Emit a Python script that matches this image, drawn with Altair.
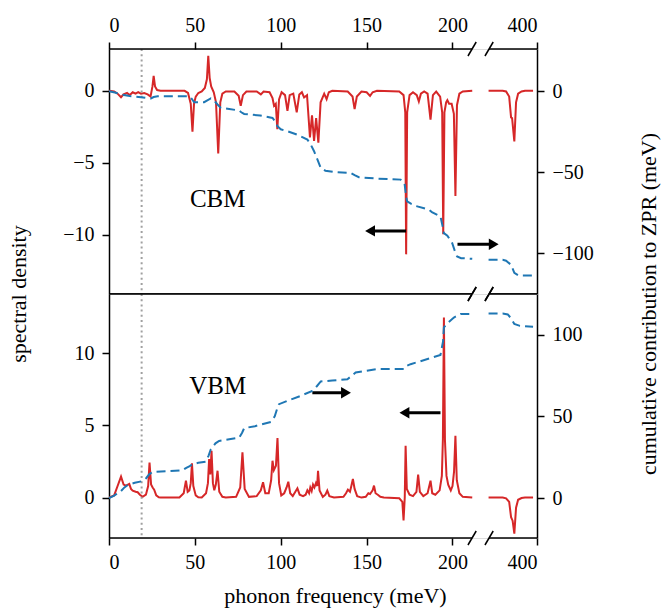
import altair as alt
import pandas as pd

# ---------------- data ----------------
# broken x axis: 0..211.5 meV, then 371.8..400 meV
SHIFT = 150.8            # display position = f - SHIFT for the high-frequency part
XMAX = 400 - SHIFT       # right end of the axis (400 meV)
BREAK_L = 211.4          # end of left spine (display units)
BREAK_R = 221.3          # start of right spine (display units)

# CBM spectral density (left axis)
cbm_f = [0, 3, 5, 7, 8.5, 10.5, 12, 13.8, 15.5, 17, 18.6, 20.5, 22.5, 24.2, 25.3, 26, 26.8, 28, 30, 44, 46,
         47.6, 48.6, 49.5, 50.5, 52, 54, 55.8, 57, 57.8, 58.6, 59.5, 61, 62.3, 63.6, 64.8, 66, 68, 73, 75.5,
         76.7, 78, 80, 86, 88.4, 90, 93.5, 95.2, 96.1, 97.1, 98, 99, 100.5, 102.5, 103.9, 105.2, 107.3, 109.3,
         110.8, 112.3, 113.6, 115.3, 117, 118.2, 119.4, 120.6, 121.9, 123.2, 125.3, 126.7, 128, 130, 139,
         141.8, 143, 144.3, 147, 150, 152, 153.5, 156, 169, 171.5, 172.5, 173, 173.6, 175, 177, 179.2, 180.4,
         181.6, 183.5, 185.5, 187.2, 188.6, 190.5, 192.8, 194, 194.6, 195.3, 196.3, 197, 198, 199.5, 200.8,
         201.7, 202.6, 204, 206, 211.5]
cbm_v = [0, -0.05, -0.2, -0.45, -0.25, -0.15, -0.3, -0.1, -0.2, -0.1, -0.2, -0.15, -0.25, -0.4, 0.3, 1.04, 0.3,
         0.05, 0, 0, -0.15, -0.9, -2.83, -0.9, -0.4, -0.15, -0.05, 0.2, 0.8, 2.43, 0.9, 0.3, -0.1, -0.8, -4.35,
         -0.8, -0.2, -0.05, -0.05, -0.35, -1.04, -0.3, -0.05, -0.05, -0.25, -0.05, -0.1, -0.5, -1.04, -0.9,
         -2.66, -0.6, -0.1, -0.3, -1.39, -0.3, -0.2, -1.5, -0.25, -0.1, -0.46, -0.3, -3.24, -1.7, -3.47, -1.9,
         -3.6, -0.8, -0.2, -0.58, -0.1, 0, -0.05, -0.4, -1.27, -0.4, -0.05, -0.1, -0.35, -0.1, 0, -0.05, -0.3,
         -1.5, -11.35, -1.5, -0.3, -0.1, -0.3, -0.74, -0.2, -0.05, -0.2, -2.0, -0.3, -0.05, -0.4, -1.5, -9.95,
         -1.5, -0.8, -0.65, -0.9, -0.9, -1.6, -7.3, -1.0, -0.2, -0.05, 0]
cbm_hf = [371.8, 380, 382, 383.8, 384.9, 385.5, 386.8, 387.8, 389, 391, 393, 397.7]
cbm_hv = [0, 0, -0.05, -0.4, -1.85, -1.9, -3.52, -0.8, -0.2, -0.05, 0, 0]

# CBM cumulative contribution to ZPR (right axis, meV)
cbm_cf = [0, 4, 7, 12, 18.6, 22, 24.4, 26, 28.3, 46.7, 48, 49.6, 55.4, 57.5, 59.3, 61, 63.2, 65.1, 70, 75.8,
          77, 78.7, 88, 95.2, 97, 98.1, 100, 103.9, 110, 115.5, 117.5, 119.4, 121.5, 123.3, 126, 131, 140.7,
          143, 145.5, 155, 169.8, 172.1, 173, 173.6, 176, 179.5, 186.2, 188, 193, 194.6, 195, 197, 199.8,
          201.5, 202.7, 205, 211.5]
cbm_cv = [0, -1, -2, -3, -3.7, -4.2, -4.5, -3.6, -3.1, -3.1, -4.5, -6.8, -6.8, -5.5, -4.5, -5.5, -8.2, -10.3,
          -11, -11.9, -13, -14, -15, -16.5, -19, -21.6, -23.5, -24.7, -27, -29.8, -33, -37, -42.5, -47.3, -49,
          -49.8, -50.4, -51.8, -53, -53.8, -54.5, -57, -65, -67.9, -69.5, -71, -73, -74.5, -77.2, -85, -87.5,
          -89, -93.6, -99, -101.9, -102.9, -103.3]
cbm_chf = [371.8, 380, 382, 384.9, 386.8, 389, 391, 397.7]
cbm_chv = [-103.9, -103.9, -104.5, -107, -112, -113.4, -113.6, -113.6]

# VBM spectral density (left axis)
vbm_f = [0, 3, 5, 7, 8.5, 9.9, 11.8, 12.8, 13.8, 15.5, 16.7, 18, 19.6, 21.5, 22.8, 23.6, 24.5, 25.4, 26.3,
         27.5, 29, 30, 41, 43.5, 44.8, 45.8, 46.8, 47.6, 48.3, 49.1, 50.5, 52, 54, 56.5, 57.6, 58.3, 59, 59.7,
         60.5, 61.3, 62.2, 63.2, 64.2, 66, 68, 74, 76.4, 77.7, 79, 81.5, 86, 88.4, 89.7, 91, 93, 94.4, 95.2, 96,
         97.2, 98.1, 99, 100.3, 102, 103.4, 104.4, 105.5, 107, 108.5, 109.7, 111, 113, 114.5, 115.5, 116.5,
         117.2, 118, 118.8, 119.6, 120.5, 121.2, 121.7, 122.6, 124.5, 126, 127.1, 128.3, 131, 136.5, 138,
         139.1, 140.3, 141.1, 142, 143, 144.5, 147, 149.5, 151, 152, 153.5, 154.3, 155.2, 156.5, 158, 160, 169,
         170.8, 171.5, 172.2, 172.7, 173.4, 175, 177, 179, 180, 181, 183, 185.5, 187.2, 188.2, 190, 192.5,
         193.8, 194.4, 195, 195.6, 196.5, 197.5, 199, 200, 200.9, 201.7, 202.5, 204, 206, 211.5]
vbm_v = [0, 0.15, 0.8, 1.45, 0.9, 0.83, 0.94, 0.6, 0.48, 0.4, 0.37, 0.2, 0.05, 0.2, 0.8, 2.43, 0.9, 0.7, 0.55,
         0.15, 0.02, 0, 0, 0.3, 1.17, 0.4, 0.5, 1.0, 2.37, 0.8, 0.15, 0.02, 0, 0.3, 1.0, 2.67, 1.6, 3.24, 1.0,
         0.5, 0.9, 1.86, 0.4, 0.05, 0, 0.05, 0.7, 3.13, 0.6, 0.05, 0.1, 0.5, 1.06, 0.3, 0.3, 1.2, 2.55, 1.9,
         2.2, 4.12, 1.0, 0.15, 0.3, 0.7, 1.1, 0.3, 0.1, 0.4, 0.64, 0.2, 0.1, 0.2, 0.5, 0.3, 0.7, 0.45, 0.9,
         0.7, 1.0, 0.8, 1.86, 0.5, 0.05, 0.2, 0.48, 0.1, 0, 0.05, 0.3, 0.55, 0.4, 0.8, 1.29, 0.6, 0.1, 0, 0.05,
         0.3, 0.25, 0.5, 0.83, 0.3, 0.2, 0.05, 0, -0.05, -0.3, -1.59, 0, 3.59, 0.6, 0.2, 0.1, 0.4, 1.59, 0.4,
         0.1, 0.3, 1.17, 0.3, 0.2, 0.5, 1.5, 4.0, 12.48, 4.0, 1.5, 0.9, 0.5, 0.8, 1.8, 4.28, 1.2, 0.3, 0.05, 0]
vbm_hf = [371.8, 380, 382, 383.8, 384.9, 385.8, 386.8, 387.8, 389, 391, 393, 397.7]
vbm_hv = [0, 0, -0.05, -0.3, -1.36, -1.6, -2.5, -0.7, -0.15, -0.03, 0, 0]

# VBM cumulative contribution to ZPR (right axis, meV)
vbm_cf = [0, 3, 7, 9, 10.9, 15, 19.6, 21.5, 23.4, 25.4, 35, 42.8, 45, 47, 48.6, 52, 56.4, 58, 59.3, 62, 64.1,
          70, 75.8, 77.5, 78.7, 85, 94.2, 96.5, 98, 99, 105, 111.6, 118.4, 121, 123.3, 130, 138.8, 141.5, 143.6,
          150, 156.2, 171.7, 173.5, 175.6, 185, 193, 194.5, 195, 197, 200.8, 204.7, 211.5]
vbm_cv = [0, 1.5, 4.3, 6.5, 8, 9.3, 10.4, 12, 14.5, 16, 16.5, 17, 18.5, 19.5, 20.7, 21.6, 22.3, 26, 29.9, 33.5,
          35, 36, 37, 40, 42.8, 44, 46.6, 50, 55, 57.5, 60, 62.6, 65.6, 68.5, 71.4, 72, 72.8, 75, 76.9, 78, 79,
          79, 81, 82, 85, 87.7, 96, 104.5, 107, 110.6, 112.7, 112.7]
vbm_chf = [371.8, 380, 383, 385, 386.8, 390, 397.7]
vbm_chv = [113, 113, 112.5, 110, 106.6, 105.5, 105]

# annotations: (start, end) in display units, y in left-axis units
cbm_arrows = [(173, 152, -9.72, "left"), (202.9, 224, -10.65, "right")]
vbm_arrows = [(118.4, 138, 7.26, "right"), (193, 172, 5.88, "left")]
cutoff_freq = 19.0

XTICKS = [0, 50, 100, 150, 200, XMAX]

FONT = "Liberation Serif"
LBL = 20
RED = "#d62728"
BLUE = "#1f77b4"
W, H1, H2 = 428, 245, 244


def disp(f):
    return f if f < 300 else f - SHIFT


def two_segments(f_lo, v_lo, f_hi, v_hi):
    rows = [{"d": disp(a), "v": b, "seg": 0} for a, b in zip(f_lo, v_lo)]
    rows += [{"d": disp(a), "v": b, "seg": 1} for a, b in zip(f_hi, v_hi)]
    return pd.DataFrame(rows)


xscale = alt.Scale(domain=[0, XMAX], nice=False, zero=False)


def xaxis(orient, title=None):
    kw = dict(orient=orient, values=XTICKS,
              labelExpr="datum.value > 240 ? '400' : format(datum.value, 'd')",
              domain=False, tickSize=7, tickWidth=1.5, tickColor="black", grid=False,
              labelFont=FONT, labelFontSize=LBL, labelColor="black", labelPadding=7)
    if title is not None:
        kw.update(title=title, titleFont=FONT, titleFontSize=22, titleFontWeight="normal",
                  titleColor="black", titlePadding=13, titleX=226)
    else:
        kw.update(title=None)
    return alt.Axis(**kw)


def yaxis(orient, values):
    return alt.Axis(orient=orient, values=values, title=None, domain=True, domainColor="black",
                    domainWidth=1.5, tickSize=7, tickWidth=1.5, tickColor="black", grid=False,
                    labelFont=FONT, labelFontSize=LBL, labelColor="black", labelPadding=8)


def panel(red_df, cum_df, ldom, lvals, rdom, rvals, label, label_y, arrows, H, xorient, xtitle, titles):
    lsc = alt.Scale(domain=ldom, nice=False, zero=False)
    rsc = alt.Scale(domain=rdom, nice=False, zero=False)
    XA = xaxis(xorient, xtitle)
    LA = yaxis("left", lvals)
    X = lambda f: alt.X(f, scale=xscale, axis=XA)
    Y = lambda f: alt.Y(f, scale=lsc, axis=LA)

    red = alt.Chart(red_df).mark_line(color=RED, strokeWidth=2, clip=True).encode(
        x=X("d:Q"), y=Y("v:Q"), detail="seg:N")

    dot = alt.Chart(pd.DataFrame({"d": [cutoff_freq], "v": [0.0]})).mark_rule(
        color="#a0a0a0", strokeWidth=2, strokeDash=[2, 3.2]).encode(
        x=X("d:Q"), y=alt.value(0), y2=alt.value(H))

    arr = pd.DataFrame([{"x0": a, "x1": b, "v": c, "dir": d} for a, b, c, d in arrows])
    shafts = alt.Chart(arr).mark_rule(color="black", strokeWidth=3).encode(
        x=X("x0:Q"), x2="x1:Q", y=Y("v:Q"))
    heads = []
    for dname, shape in [("left", "triangle-left"), ("right", "triangle-right")]:
        sub = arr[arr["dir"] == dname]
        heads.append(alt.Chart(sub).mark_point(shape=shape, filled=True, color="black", opacity=1,
                                               size=130).encode(x=X("x1:Q"), y=Y("v:Q")))

    txt = alt.Chart(pd.DataFrame({"d": [63.3], "v": [label_y], "t": [label]})).mark_text(
        font=FONT, fontSize=25, color="black").encode(x=X("d:Q"), y=Y("v:Q"), text="t:N")

    # broken horizontal spines and the // break marks
    sp = pd.DataFrame({"a": [0, BREAK_R], "b": [BREAK_L, XMAX]})
    br = pd.DataFrame({"a": [BREAK_L - 2.4, BREAK_R - 2.4], "b": [BREAK_L + 2.4, BREAK_R + 2.4]})
    deco = []
    for yy in [0, H]:
        deco.append(alt.Chart(sp).mark_rule(color="black", strokeWidth=1.5).encode(
            x=X("a:Q"), x2="b:Q", y=alt.value(yy)))
        deco.append(alt.Chart(br).mark_rule(color="black", strokeWidth=1.5).encode(
            x=X("a:Q"), x2="b:Q", y=alt.value(yy + 7), y2=alt.value(yy - 7)))

    layers = [red, dot, shafts] + heads + [txt] + deco
    if titles:
        tt = pd.DataFrame({"t": ["spectral density"]})
        layers.append(alt.Chart(tt).mark_text(font=FONT, fontSize=22, color="black", angle=270).encode(
            x=alt.value(-90), y=alt.value(H), text="t:N"))
        tr = pd.DataFrame({"t": ["cumulative contribution to ZPR (meV)"]})
        layers.append(alt.Chart(tr).mark_text(font=FONT, fontSize=22, color="black", angle=270).encode(
            x=alt.value(W + 112), y=alt.value(H + 10), text="t:N"))

    left = alt.layer(*layers)
    cum = alt.Chart(cum_df).mark_line(color=BLUE, strokeWidth=2, strokeDash=[9, 5], clip=True).encode(
        x=X("d:Q"),
        y=alt.Y("v:Q", scale=rsc, axis=yaxis("right", rvals)), detail="seg:N")
    return alt.layer(left, cum).resolve_scale(y="independent").properties(width=W, height=H)


top = panel(two_segments(cbm_f, cbm_v, cbm_hf, cbm_hv), two_segments(cbm_cf, cbm_cv, cbm_chf, cbm_chv),
            [-14.1, 2.9], [-10, -5, 0], [-125, 26], [-100, -50, 0], "CBM", -7.5, cbm_arrows, H1,
            "top", None, True)
bottom = panel(two_segments(vbm_f, vbm_v, vbm_hf, vbm_hv), two_segments(vbm_cf, vbm_cv, vbm_chf, vbm_chv),
               [-2.8, 14.1], [0, 5, 10], [-24.5, 125], [0, 50, 100], "VBM", 7.72, vbm_arrows, H2,
               "bottom", "phonon frequency (meV)", False)

chart = alt.vconcat(top, bottom, spacing=0, bounds="flush").properties(
    padding={"left": 7, "top": 14, "right": 5, "bottom": 5}
).configure_view(stroke=None).configure(background="white")

chart.save("out.html", embed_options={"renderer": "svg", "actions": False})
